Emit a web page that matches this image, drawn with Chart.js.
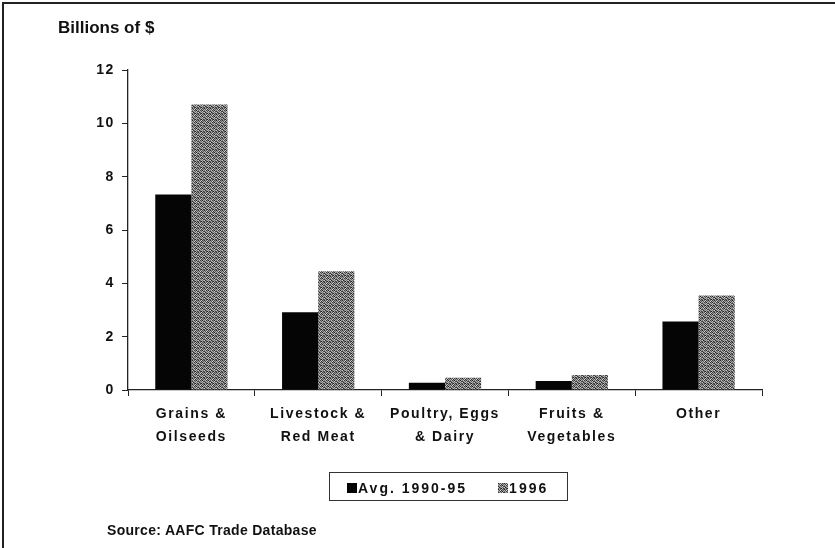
<!DOCTYPE html>
<html>
<head>
<meta charset="utf-8">
<script src="https://cdn.jsdelivr.net/npm/chart.js@4/dist/chart.umd.min.js"></script>
<style>
    body { margin: 0; background: #fff; }
    #quadro { position: relative; width: 835px; height: 548px; overflow: hidden; font-family: 'Liberation Sans', Arial, sans-serif; color: #111; }
    #moldura { position: absolute; left: 2px; top: 2px; width: 900px; height: 600px; border-left: 2px solid #222; border-top: 2px solid #222; }
    #titulo { position: absolute; left: 58px; top: 19px; font-size: 17px; line-height: 17px; font-weight: bold; }
    #fonte { position: absolute; left: 107px; top: 523px; font-size: 14px; line-height: 14px; font-weight: bold; letter-spacing: 0.3px; }
    #legenda { position: absolute; left: 329px; top: 472px; width: 239px; height: 29px; box-sizing: border-box; border: 1px solid #333; padding-top: 2px; display: flex; align-items: center; font-size: 14px; line-height: 14px; font-weight: bold; letter-spacing: 2px; }
    #legenda .item { display: flex; align-items: center; }
    #legenda .caixa { width: 10px; height: 10px; margin-right: 1px; }
    canvas { position: absolute; left: 0; top: 0; }
</style>
</head>
<body>
<div id="quadro">
    <canvas id="grafico" width="835" height="548"></canvas>
    <div id="moldura"></div>
    <div id="titulo">Billions of $</div>
    <div id="legenda"></div>
    <div id="fonte">Source: AAFC Trade Database</div>
</div>
<script>
// Dados do gráfico
const categorias = [
    ["Grains &", "Oilseeds"],
    ["Livestock &", "Red Meat"],
    ["Poultry, Eggs", "& Dairy"],
    ["Fruits &", "Vegetables"],
    ["Other"]
];
const rotulosSeries = ["Avg. 1990-95", "1996"];
const media9095 = [7.33, 2.92, 0.27, 0.34, 2.57];
const valores1996 = [10.71, 4.45, 0.46, 0.56, 3.54];
const ticksY = [0, 2, 4, 6, 8, 10, 12];

// Textura pontilhada cinza (tons fixos, 6x6)
const tonsTextura = [
    [40, 150, 90, 200, 70, 130],
    [170, 80, 210, 50, 160, 100],
    [110, 190, 60, 140, 30, 180],
    [60, 130, 170, 90, 200, 70],
    [200, 40, 110, 180, 120, 150],
    [90, 160, 70, 30, 170, 60]
];

function criarTextura() {
    const c = document.createElement("canvas");
    c.width = 6;
    c.height = 6;
    const g = c.getContext("2d");
    tonsTextura.forEach((linha, y) => {
        linha.forEach((t, x) => {
            g.fillStyle = `rgb(${t}, ${t}, ${t})`;
            g.fillRect(x, y, 1, 1);
        });
    });
    return c;
}

const telaTextura = criarTextura();
const textura = document.createElement("canvas").getContext("2d").createPattern(telaTextura, "repeat");
const coresSeries = ["#050505", textura];

// Legenda em HTML
function montarLegenda() {
    const caixa = document.getElementById("legenda");
    const margens = [17, 31];
    rotulosSeries.forEach((rotulo, i) => {
        const item = document.createElement("span");
        item.className = "item";
        item.style.marginLeft = margens[i] + "px";
        const quadrado = document.createElement("span");
        quadrado.className = "caixa";
        quadrado.style.background = i === 0 ? "#050505" : `url(${telaTextura.toDataURL()})`;
        const texto = document.createElement("span");
        texto.textContent = rotulo;
        item.appendChild(quadrado);
        item.appendChild(texto);
        caixa.appendChild(item);
    });
}

// Espaçamento entre letras no canvas
const espacamento = {
    id: "espacamento",
    beforeLayout(chart) { chart.ctx.letterSpacing = "1.6px"; },
    beforeDraw(chart) { chart.ctx.letterSpacing = "1.6px"; }
};

Chart.defaults.font.family = "'Liberation Sans', Arial, sans-serif";
Chart.defaults.color = "#111";

const ctx = document.getElementById("grafico").getContext("2d");

new Chart(ctx, {
    type: "bar",
    data: {
        labels: categorias,
        datasets: [{
            label: rotulosSeries[0],
            data: media9095,
            backgroundColor: coresSeries[0],
            barPercentage: 1.0,
            categoryPercentage: 0.57,
        }, {
            label: rotulosSeries[1],
            data: valores1996,
            backgroundColor: coresSeries[1],
            barPercentage: 1.0,
            categoryPercentage: 0.57,
        }],
    },
    options: {
        responsive: false,
        animation: false,
        devicePixelRatio: 1,
        layout: {
            padding: { top: 70, right: 73, left: 0, bottom: 0 },
        },
        plugins: {
            legend: { display: false },
            tooltip: { enabled: false },
        },
        scales: {
            x: {
                grid: { drawOnChartArea: false, tickLength: 6, color: "#222", offset: true },
                border: { display: true, color: "#222", width: 1.3 },
                ticks: {
                    font: { size: 14, weight: "bold", lineHeight: 1.64 },
                    padding: 7,
                    maxRotation: 0,
                    autoSkip: false,
                },
                afterFit(scale) { scale.height = 158; },
            },
            y: {
                min: 0,
                max: 12,
                afterBuildTicks(scale) { scale.ticks = ticksY.map(v => ({ value: v })); },
                grid: { drawOnChartArea: false, tickLength: 6, color: "#222" },
                border: { display: true, color: "#222", width: 1.3 },
                ticks: {
                    font: { size: 14, weight: "bold" },
                    padding: 7,
                },
                afterFit(scale) { scale.width = 128; },
            },
        },
    },
    plugins: [espacamento],
});

montarLegenda();
</script>
</body>
</html>
